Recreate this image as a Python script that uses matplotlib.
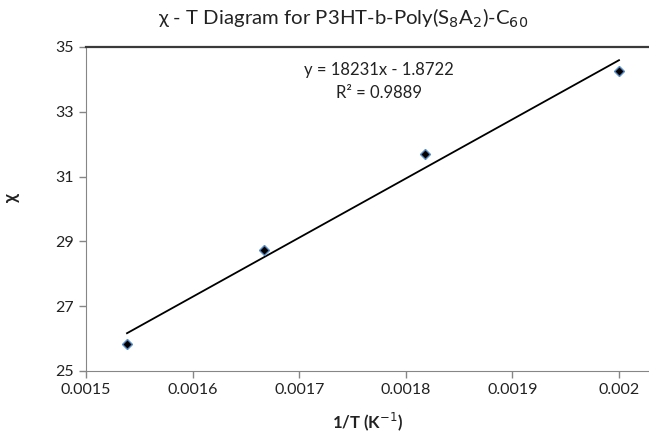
import matplotlib.pyplot as plt
import numpy as np
from matplotlib.ticker import FuncFormatter

# 1/T values (K^-1) and chi values
inv_T = [1 / 650, 1 / 600, 1 / 550, 1 / 500]
chi = [25.83, 28.74, 31.70, 34.27]

x_ticks = [0.0015, 0.0016, 0.0017, 0.0018, 0.0019, 0.002]
y_ticks = [25, 27, 29, 31, 33, 35]

AXIS_COLOR = "#868686"
TEXT_COLOR = "#222222"

plt.rcParams["font.family"] = ["Lato", "DejaVu Sans"]

fig = plt.figure(figsize=(6.49, 4.38), dpi=100)
ax = fig.add_axes([86 / 649, 1 - 371 / 438, 1 - 86 / 649, (371 - 47) / 438])

# linear trendline over the data range
slope, intercept = np.polyfit(inv_T, chi, 1)
xs = np.array([min(inv_T), max(inv_T)])
ax.plot(xs, slope * xs + intercept, color="black", linewidth=1.3, zorder=2)

ax.plot(inv_T, chi, linestyle="none", marker="D", markersize=5.5,
        markerfacecolor="black", markeredgecolor="#5B8FC9",
        markeredgewidth=1.0, zorder=3)

ax.set_xlim(0.0015, 0.0015 + (649 - 86) / 106.6 * 0.0001)
ax.set_ylim(25, 35)
ax.set_xticks(x_ticks)
ax.set_yticks(y_ticks)
ax.xaxis.set_major_formatter(FuncFormatter(lambda v, p: f"{v:.4f}".rstrip("0")))

ax.spines["right"].set_visible(False)
ax.spines["top"].set_color("#3a3a3a")
ax.spines["top"].set_linewidth(1.6)
ax.spines["left"].set_color(AXIS_COLOR)
ax.spines["bottom"].set_color(AXIS_COLOR)
ax.tick_params(axis="both", direction="out", length=5, width=1,
               color=AXIS_COLOR, labelsize=11.5, labelcolor=TEXT_COLOR, pad=4)

ax.set_xlabel("1/T (K$^{-1}$)", fontsize=12, fontweight="bold", color=TEXT_COLOR, labelpad=9)
ax.set_ylabel("χ", fontsize=13, fontweight="bold", color=TEXT_COLOR, rotation=90)
ax.yaxis.set_label_coords(-0.118, 0.534)

fig.text(343 / 649, 1 - 18 / 438, "χ - T Diagram for P3HT-b-Poly(S$_8$A$_2$)-C$_{60}$",
         ha="center", va="center", fontsize=14.7, color=TEXT_COLOR)

ax.text(0.52, 0.893, "y = 18231x - 1.8722\nR² = 0.9889", transform=ax.transAxes,
        ha="center", va="center", fontsize=12, color=TEXT_COLOR, linespacing=1.5)

fig.savefig("out.png", dpi=100)
